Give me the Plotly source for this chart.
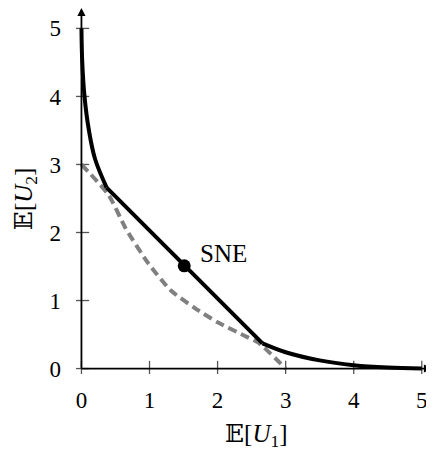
import plotly.graph_objects as go

# Data
upper_x = [0.0, 0.012, 0.045, 0.11, 0.2, 0.37]
upper_y = [5.0, 4.5, 4.0, 3.5, 3.08, 2.66]
middle_x = [0.37, 1.51, 2.66]
middle_y = [2.66, 1.51, 0.37]
lower_x = [2.66, 3.0, 3.5, 4.0, 4.5, 5.0]
lower_y = [0.37, 0.24, 0.12, 0.05, 0.015, 0.0]

dashed_x = [0.0, 0.4, 0.65, 0.98, 1.31, 1.65, 2.0, 2.38, 2.6, 3.0]
dashed_y = [3.0, 2.55, 2.06, 1.55, 1.15, 0.9, 0.68, 0.49, 0.38, 0.0]

sne_x = [1.51]
sne_y = [1.51]
sne_label = "SNE"

tick_vals = [0, 1, 2, 3, 4, 5]
tick_text = ["0", "1", "2", "3", "4", "5"]

x_title = "𝔼[<i>U</i><sub>1</sub>]"
y_title = "𝔼[<i>U</i><sub>2</sub>]"

FONT = "Liberation Serif, DejaVu Serif, Times New Roman, serif"
FS = 23

fig = go.Figure()

# tick marks crossing the axes
fig.add_trace(go.Scatter(
    x=tick_vals, y=[0] * len(tick_vals), mode="markers",
    marker=dict(symbol="line-ns", size=11, line=dict(color="#555", width=1.3)),
    hoverinfo="skip", showlegend=False))
fig.add_trace(go.Scatter(
    x=[0] * len(tick_vals), y=tick_vals, mode="markers",
    marker=dict(symbol="line-ew", size=11, line=dict(color="#555", width=1.3)),
    hoverinfo="skip", showlegend=False))

fig.add_trace(go.Scatter(
    x=dashed_x, y=dashed_y, mode="lines",
    line=dict(color="#808080", width=4, dash="9px,5px", shape="spline", smoothing=0.6),
    showlegend=False))
for xs, ys, shp in [(upper_x, upper_y, "spline"), (middle_x, middle_y, "linear"),
                    (lower_x, lower_y, "spline")]:
    fig.add_trace(go.Scatter(
        x=xs, y=ys, mode="lines",
        line=dict(color="black", width=4, shape=shp), showlegend=False))
fig.add_trace(go.Scatter(
    x=sne_x, y=sne_y, mode="markers",
    marker=dict(color="black", size=13), showlegend=False))

# axes with arrows
fig.add_annotation(x=5.15, y=0, ax=-0.02, ay=0, xref="x", yref="y", axref="x", ayref="y",
                   showarrow=True, arrowhead=2, arrowsize=0.9, arrowwidth=1.8,
                   arrowcolor="black", text="")
fig.add_annotation(x=0, y=5.3, ax=0, ay=-0.02, xref="x", yref="y", axref="x", ayref="y",
                   showarrow=True, arrowhead=2, arrowsize=0.9, arrowwidth=1.8,
                   arrowcolor="black", text="")

fig.add_annotation(x=1.71, y=1.69, text=sne_label, showarrow=False,
                   xanchor="left", yanchor="middle",
                   font=dict(family=FONT, size=25, color="black"))

# axis titles
fig.add_annotation(x=0.508, y=-0.167, xref="paper", yref="paper", text=x_title,
                   showarrow=False, xanchor="center", yanchor="middle",
                   font=dict(family=FONT, size=25, color="black"))
fig.add_annotation(x=-0.143, y=0.478, xref="paper", yref="paper", text=y_title,
                   showarrow=False, xanchor="center", yanchor="middle", textangle=-90,
                   font=dict(family=FONT, size=25, color="black"))

# page body has an 8px margin, so the figure is sized and offset to compensate
fig.update_layout(
    width=426, height=445,
    margin=dict(l=68, r=2, t=0, b=79),
    plot_bgcolor="white", paper_bgcolor="white",
    font=dict(family=FONT, size=FS, color="black"),
    showlegend=False,
)
fig.update_xaxes(range=[-0.08, 5.15], tickvals=tick_vals, ticktext=tick_text,
                 showgrid=False, zeroline=False, showline=False, ticks="",
                 ticklabelstandoff=10, automargin=False,
                 tickfont=dict(family=FONT, size=FS, color="black"))
fig.update_yaxes(range=[-0.08, 5.3], tickvals=tick_vals, ticktext=tick_text,
                 showgrid=False, zeroline=False, showline=False, ticks="",
                 ticklabelstandoff=14, automargin=False,
                 tickfont=dict(family=FONT, size=FS, color="black"))

fig.write_html("out.html")
